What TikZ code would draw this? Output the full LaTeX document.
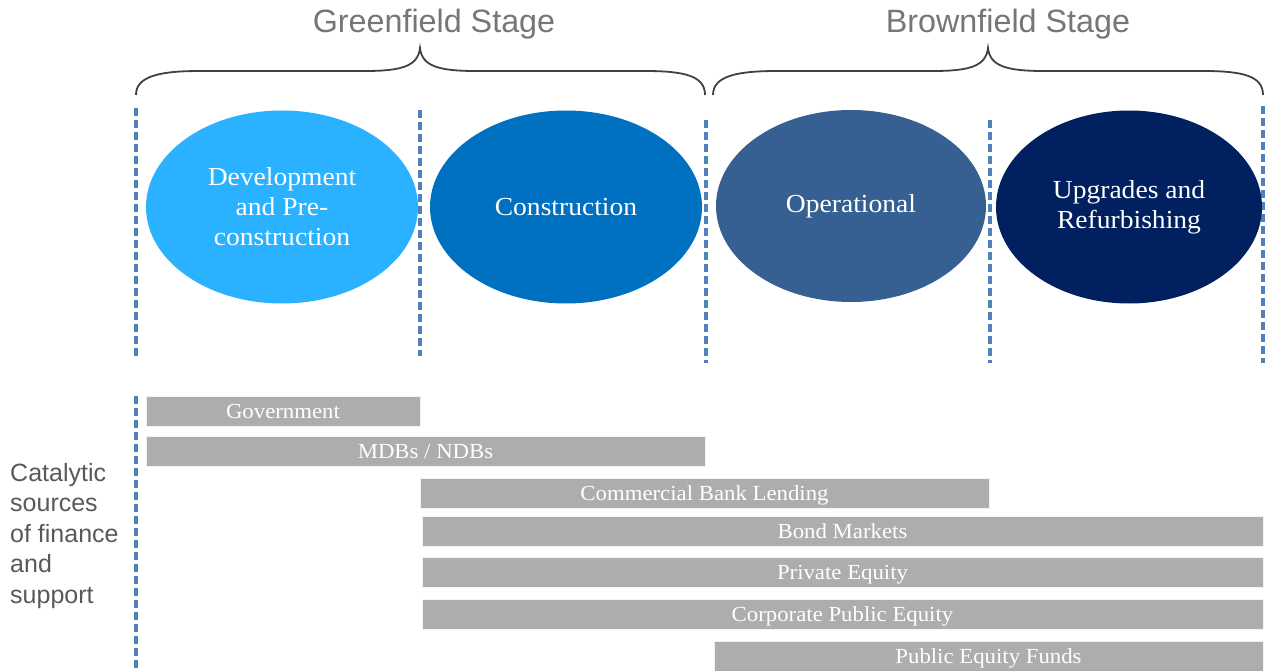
\documentclass[tikz,border=0pt]{standalone}
\usepackage{fontspec}
\setmainfont{Liberation Serif}[FakeStretch=1.06]
\newfontfamily\sansf{Liberation Sans}
\usetikzlibrary{shapes.geometric}
\definecolor{dashblue}{RGB}{79,129,189}
\definecolor{ellA}{RGB}{42,177,255}
\definecolor{ellB}{RGB}{0,112,192}
\definecolor{ellC}{RGB}{55,96,146}
\definecolor{ellD}{RGB}{0,32,96}
\definecolor{bargray}{RGB}{173,173,173}
\definecolor{titlegray}{RGB}{118,118,118}
\definecolor{labelgray}{RGB}{89,89,89}
\definecolor{bracegray}{RGB}{64,64,64}
\tikzset{
  phase/.style={ellipse, inner sep=0pt, minimum width=272pt, minimum height=193pt,
    text=white, align=center, font=\fontsize{26}{30}\selectfont},
  sep/.style={draw=dashblue, line width=3.4pt, dash pattern=on 8pt off 4pt},
  bar/.style={rectangle, fill=bargray, draw=white!85!bargray, line width=0.6pt,
    inner sep=0pt, minimum height=30pt, text height=18pt, text depth=4pt,
    text=white, font=\fontsize{21.5}{24}\selectfont},
  stagetitle/.style={text=titlegray, font=\sansf\fontsize{32.3}{36}\selectfont},
  bracket/.style={draw=bracegray, line width=1.8pt},
}
\begin{document}
\begin{tikzpicture}[x=1pt,y=-1pt]
\useasboundingbox (0,0) rectangle (1266,671);
% titles
\node[stagetitle] (gs) at (434,24) {Greenfield Stage};
\node[stagetitle] (bs) at (1008,24) {Brownfield Stage};
% braces
\draw[bracket] (136,95) .. controls (136,76) and (160,71) .. (200,71) -- (365,71)
  .. controls (402,71) and (418,66) .. (420,48)
  .. controls (422,66) and (438,71) .. (476,71) -- (645,71)
  .. controls (685,71) and (705,76) .. (705,95);
\draw[bracket] (713,95) .. controls (713,76) and (737,71) .. (777,71) -- (933,71)
  .. controls (970,71) and (986,66) .. (988,48)
  .. controls (990,66) and (1006,71) .. (1044,71) -- (1203,71)
  .. controls (1243,71) and (1263,76) .. (1263,95);
% dashed separators
\coordinate (s1t) at (136,108); \coordinate (s1b) at (136,356);
\coordinate (s2t) at (420,110); \coordinate (s2b) at (420,356);
\coordinate (s3t) at (706,120); \coordinate (s3b) at (706,363);
\coordinate (s4t) at (990,120); \coordinate (s4b) at (990,363);
\coordinate (s5t) at (1263,106); \coordinate (s5b) at (1263,363);
\coordinate (s6t) at (136,396); \coordinate (s6b) at (136,671);
\draw[sep] (s1t) -- (s1b);
\draw[sep] (s2t) -- (s2b);
\draw[sep] (s3t) -- (s3b);
\draw[sep] (s4t) -- (s4b);
\draw[sep] (s5t) -- (s5b);
\draw[sep] (s6t) -- (s6b);
% phases
\node[phase, fill=ellA] (dev) at (282,207) {Development\\and Pre-\\construction};
\node[phase, fill=ellB] (con) at (566,207) {Construction};
\node[phase, fill=ellC, minimum width=270pt, minimum height=192pt] (ope) at (851,206) {Operational};
\node[phase, fill=ellD, minimum width=266pt] (upg) at (1129,207) {Upgrades and\\Refurbishing};
% bars
\node[bar, minimum width=274pt] (gov) at (283,411) {Government};
\node[bar, minimum width=559pt] (mdb) at (425.5,451.5) {MDBs / NDBs};
\node[bar, minimum width=569pt] (cbl) at (704.5,493) {Commercial Bank Lending};
\node[bar, minimum width=841pt] (bond) at (842.5,531) {Bond Markets};
\node[bar, minimum width=841pt] (pe) at (842.5,572.5) {Private Equity};
\node[bar, minimum width=841pt] (cpe) at (842.5,614) {Corporate Public Equity};
\node[bar, minimum width=549pt] (pef) at (988.5,656) {Public Equity Funds};
% left label
\node[anchor=north west, inner sep=0pt, align=left, text=labelgray,
  font=\sansf\fontsize{25}{30.5}\selectfont] (lab) at (10,463)
  {Catalytic\\sources\\of finance\\and\\support};
\end{tikzpicture}
\end{document}
